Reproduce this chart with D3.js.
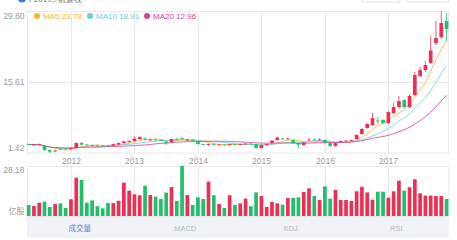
<!DOCTYPE html>
<html>
<head>
<meta charset="utf-8">
<script src="https://cdn.jsdelivr.net/npm/d3@7/dist/d3.min.js"></script>
<style>
body { margin: 0; background: #fff; }
text { font-family: "Liberation Sans", Arial, "Noto Sans CJK SC", sans-serif; }
</style>
</head>
<body>
<div id="chart"></div>
<script>
var months = [
    '2011-05','2011-06','2011-07','2011-08','2011-09','2011-10','2011-11','2011-12',
    '2012-01','2012-02','2012-03','2012-04','2012-05','2012-06','2012-07','2012-08','2012-09','2012-10','2012-11','2012-12',
    '2013-01','2013-02','2013-03','2013-04','2013-05','2013-06','2013-07','2013-08','2013-09','2013-10','2013-11','2013-12',
    '2014-01','2014-02','2014-03','2014-04','2014-05','2014-06','2014-07','2014-08','2014-09','2014-10','2014-11','2014-12',
    '2015-01','2015-02','2015-03','2015-04','2015-05','2015-06','2015-07','2015-08','2015-09','2015-10','2015-11','2015-12',
    '2016-01','2016-02','2016-03','2016-04','2016-05','2016-06','2016-07','2016-08','2016-09','2016-10','2016-11','2016-12',
    '2017-01','2017-02','2017-03','2017-04','2017-05','2017-06','2017-07','2017-08','2017-09','2017-10','2017-11','2017-12'
];
var open = [3.2,3.0,3.0,2.9,2.0,1.8,2.3,2.3, 2.2,2.4,3.4,3.1,3.0,2.95,2.9,2.95,2.9,3.1,3.4,3.6,
    3.8,4.2,4.3,4.0,4.1,4.0,3.7,3.6,4.2,4.4,4.0,4.0, 3.7,3.2,3.0,3.2,3.0,3.1,3.0,3.2,3.1,3.15,3.3,3.2,
    2.4,3.0,3.4,4.0,4.3,4.2,4.0,3.4,3.0,4.0,4.1,4.0, 4.0,3.4,2.8,3.6,3.8,3.9,4.2,5.2,6.4,7.0,7.9,8.0,
    7.4,9.4,10.6,12.0,10.6,13.0,16.8,18.0,19.4,23.4,24.6,27.8];
var close = [3.1,3.1,3.15,2.0,1.7,1.9,2.2,2.25, 2.4,3.4,3.1,3.0,2.9,2.85,2.8,2.85,3.2,3.4,3.7,3.8,
    4.3,4.6,4.1,4.1,4.0,3.9,3.4,4.2,4.15,4.3,4.1,3.9, 3.2,3.1,3.2,3.1,3.1,3.0,3.2,3.1,3.2,3.3,3.2,2.4,
    3.0,3.2,3.9,4.5,4.2,4.3,3.4,3.1,3.5,4.1,4.0,4.1, 3.4,2.8,3.4,3.8,3.9,4.0,5.0,6.2,7.2,8.4,7.8,7.4,
    9.6,10.6,11.8,10.6,12.8,17.0,18.0,19.0,21.9,24.4,27.4,26.2];
var high = [3.35,3.2,3.3,3.05,2.1,2.1,2.45,2.4, 2.5,3.55,3.6,3.2,3.1,3.0,2.95,3.05,3.3,3.5,3.85,4.0,
    4.7,4.8,4.6,4.3,4.25,4.1,3.8,4.3,4.5,4.7,4.3,4.1, 3.8,3.3,3.35,3.3,3.2,3.15,3.3,3.3,3.3,3.4,3.35,3.3,
    3.1,3.3,4.0,4.7,4.45,4.5,4.1,3.5,3.6,4.5,4.4,4.4, 4.1,3.5,3.5,3.9,4.0,4.1,5.2,6.4,7.4,9.4,8.6,8.2,
    9.8,11.4,12.8,12.2,13.2,17.6,18.6,19.8,24.8,27.8,29.8,29.4];
var low = [3.0,2.9,2.9,1.9,1.42,1.6,2.0,2.1, 2.1,2.3,3.0,2.9,2.8,2.75,2.7,2.75,2.85,3.0,3.3,3.5,
    3.7,4.1,3.9,3.9,3.9,3.8,3.0,3.5,4.0,4.1,3.9,3.8, 3.1,3.0,2.9,3.0,2.9,2.9,2.95,3.0,3.0,3.1,3.1,2.3,
    2.35,2.9,3.3,3.9,4.1,4.1,3.3,2.4,2.9,3.9,3.9,3.9, 3.3,2.7,2.7,3.5,3.7,3.8,4.1,5.1,6.3,6.9,7.2,7.2,
    7.2,9.2,10.4,10.3,10.4,12.8,16.5,17.6,19.2,23.0,24.2,23.8];
var volume = [6.2,5.6,7.5,8.1,5.1,6.8,7.1,4.5, 9.4,21.6,20.3,7.5,8.8,5.5,4.3,7.3,7.3,8.6,18.8,14.3,
    12.2,11.7,17.1,11.8,10.9,9.6,13.2,16.3,8.5,28.18,11.8,6.2, 10.5,9.6,19.4,11.7,6.8,4.5,11.7,6.2,7.1,9.8,5.5,13.3,
    11.3,5.1,7.9,7.1,6.4,10.1,10.1,10.5,13.5,15.6,11.3,9.0, 16.7,9.8,14.7,9.0,9.0,8.5,13.9,16.5,13.3,9.2,13.7,13.7,
    10.3,13.9,19.9,14.3,16.2,20.7,12.8,11.5,11.5,11.3,11.3,9.6];

var maPeriods = [5, 10, 20];
var maNames = ['MA5', 'MA10', 'MA20'];
var maLast = ['23.78', '18.91', '12.96'];
var maColors = ['#f5b82a', '#6ccbe0', '#d6409f'];
var priceTicks = [1.42, 15.61, 29.80];
var volumeTop = 28.18;
var volumeUnit = '亿股';
var yearTicks = ['2012', '2013', '2014', '2015', '2016', '2017'];
var tabs = ['成交量', 'MACD', 'KDJ', 'RSI'];

var red = '#ec2f55';
var green = '#22bf6a';
var width = 457;
var height = 240;

var svg = d3.select('#chart').append('svg')
    .attr('width', width)
    .attr('height', height);

var x = d3.scaleBand()
    .domain(months)
    .range([26.8, 448.4])
    .paddingInner(0.3);

var y = d3.scaleLinear()
    .domain([priceTicks[0], priceTicks[2]])
    .range([153, 11]);

var yv = d3.scaleLinear()
    .domain([0, volumeTop])
    .range([216, 166]);

var cx = function(i) { return x(months[i]) + x.bandwidth() / 2; };

// header bits cut at the top
svg.append('circle').attr('cx', 22).attr('cy', -2).attr('r', 4.5).attr('fill', '#3f7fe0');
svg.append('text').attr('x', 29).attr('y', 2).attr('font-size', 8).attr('fill', '#777').text('F2017');
svg.append('circle').attr('cx', 53).attr('cy', -2).attr('r', 4).attr('fill', 'none').attr('stroke', '#bbb');
svg.append('text').attr('x', 58).attr('y', 2).attr('font-size', 8).attr('fill', '#777').text('前复权');
svg.append('rect').attr('x', 362).attr('y', -20).attr('width', 38).attr('height', 22)
    .attr('fill', 'none').attr('stroke', '#e2e2e2');
svg.append('rect').attr('x', 407).attr('y', -20).attr('width', 42).attr('height', 22)
    .attr('fill', 'none').attr('stroke', '#e2e2e2');

// panels
svg.append('rect').attr('x', 27.5).attr('y', 11.5).attr('width', 421).attr('height', 141.5)
    .attr('fill', 'none').attr('stroke', '#e8e8e8');
svg.append('rect').attr('x', 27.5).attr('y', 166.5).attr('width', 421.5).attr('height', 50)
    .attr('fill', 'none').attr('stroke', '#e8e8e8');

svg.append('line')
    .attr('x1', 27.5).attr('x2', 448.5)
    .attr('y1', Math.round(y(priceTicks[1])) + 0.5).attr('y2', Math.round(y(priceTicks[1])) + 0.5)
    .attr('stroke', '#e8e8e8');

var yearX = function(yr) { return Math.round(cx(months.indexOf(yr + '-01'))) + 0.5; };

svg.selectAll('.vgrid')
    .data(yearTicks)
  .enter().append('line')
    .attr('class', 'vgrid')
    .attr('x1', yearX).attr('x2', yearX)
    .attr('y1', 11.5).attr('y2', 153)
    .attr('stroke', '#e8e8e8');

svg.selectAll('.vgrid2')
    .data(yearTicks)
  .enter().append('line')
    .attr('class', 'vgrid2')
    .attr('x1', yearX).attr('x2', yearX)
    .attr('y1', 166.5).attr('y2', 216)
    .attr('stroke', '#e8e8e8');

svg.selectAll('.year')
    .data(yearTicks)
  .enter().append('text')
    .attr('class', 'year')
    .attr('x', yearX)
    .attr('y', 164)
    .attr('text-anchor', 'middle')
    .attr('font-size', 8.5)
    .attr('fill', '#999')
    .text(function(d) { return d; });

// price labels
var priceLabelY = [151, 85, 19];
svg.selectAll('.plabel')
    .data(priceTicks)
  .enter().append('text')
    .attr('class', 'plabel')
    .attr('x', 24.5)
    .attr('y', function(d, i) { return priceLabelY[i]; })
    .attr('text-anchor', 'end')
    .attr('font-size', 8.5)
    .attr('fill', '#999')
    .text(function(d) { return d.toFixed(2); });

svg.append('text').attr('x', 24.5).attr('y', 173).attr('text-anchor', 'end')
    .attr('font-size', 8.5).attr('fill', '#999').text(volumeTop.toFixed(2));
svg.append('text').attr('x', 24.5).attr('y', 214).attr('text-anchor', 'end')
    .attr('font-size', 8).attr('fill', '#999').text(volumeUnit);

// moving averages
var ma = maPeriods.map(function(n) {
    return close.map(function(c, i) {
        return d3.mean(close.slice(Math.max(0, i - n + 1), i + 1));
    });
});

var line = d3.line()
    .x(function(d, i) { return cx(i); })
    .y(function(d) { return y(d); });

svg.selectAll('.ma')
    .data(ma)
  .enter().append('path')
    .attr('class', 'ma')
    .attr('d', line)
    .attr('fill', 'none')
    .attr('stroke', function(d, i) { return maColors[i]; })
    .attr('stroke-width', 0.8);

// candles
var idx = d3.range(months.length);
var colorOf = function(i) { return close[i] >= open[i] ? red : green; };

svg.selectAll('.wick')
    .data(idx)
  .enter().append('line')
    .attr('class', 'wick')
    .attr('x1', cx).attr('x2', cx)
    .attr('y1', function(i) { return y(high[i]); })
    .attr('y2', function(i) { return y(low[i]); })
    .attr('stroke', colorOf)
    .attr('stroke-width', 0.8);

svg.selectAll('.body')
    .data(idx)
  .enter().append('rect')
    .attr('class', 'body')
    .attr('x', function(i) { return x(months[i]); })
    .attr('width', x.bandwidth())
    .attr('y', function(i) { return y(Math.max(open[i], close[i])); })
    .attr('height', function(i) { return Math.max(0.8, Math.abs(y(open[i]) - y(close[i]))); })
    .attr('fill', colorOf);

// volume
svg.selectAll('.vol')
    .data(idx)
  .enter().append('rect')
    .attr('class', 'vol')
    .attr('x', function(i) { return x(months[i]); })
    .attr('width', x.bandwidth())
    .attr('y', function(i) { return yv(volume[i]); })
    .attr('height', function(i) { return yv(0) - yv(volume[i]); })
    .attr('fill', colorOf);

// legend
var legendX = [37, 90, 147];
var legend = svg.selectAll('.legend')
    .data(maNames)
  .enter().append('g')
    .attr('class', 'legend')
    .attr('transform', function(d, i) { return 'translate(' + legendX[i] + ',16)'; });

legend.append('circle')
    .attr('r', 3)
    .attr('fill', function(d, i) { return maColors[i]; });

legend.append('text')
    .attr('x', 6)
    .attr('y', 3)
    .attr('font-size', 8)
    .attr('fill', function(d, i) { return maColors[i]; })
    .text(function(d, i) { return d + ' ' + maLast[i]; });

// tabs
svg.append('rect').attr('x', 27).attr('y', 217).attr('width', 422).attr('height', 21)
    .attr('fill', '#eff3f7');

var tabW = 422 / tabs.length;
svg.selectAll('.tab')
    .data(tabs)
  .enter().append('text')
    .attr('class', 'tab')
    .attr('x', function(d, i) { return 27 + tabW * (i + 0.5); })
    .attr('y', 231)
    .attr('text-anchor', 'middle')
    .attr('font-size', 7.5)
    .attr('fill', function(d, i) { return i === 0 ? '#4f86d9' : '#b4b9c0'; })
    .text(function(d) { return d; });
</script>
</body>
</html>
